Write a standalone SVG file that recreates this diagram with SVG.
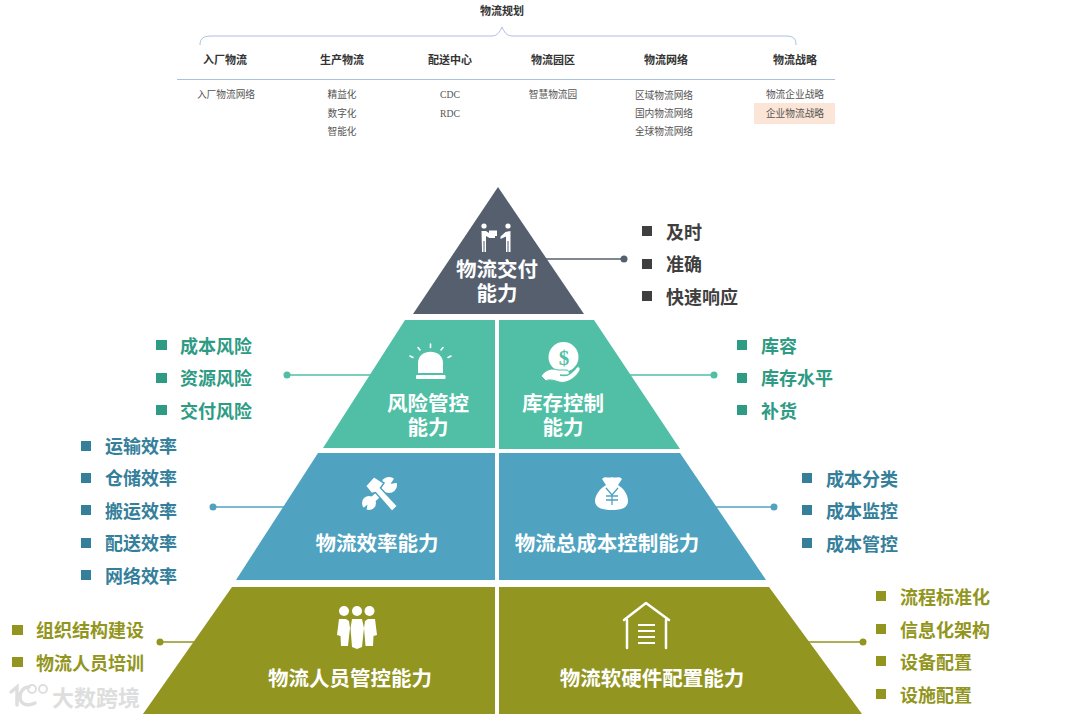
<svg xmlns="http://www.w3.org/2000/svg" width="1080" height="716" viewBox="0 0 1080 716">
<style>
text{font-family:"Noto Sans CJK SC","Noto Sans",sans-serif}
.s{font-family:"Liberation Serif","Noto Sans CJK SC",serif;fill:#444;text-anchor:middle;dominant-baseline:central}
.h{font-size:11px;font-weight:700;fill:#333}
.i{font-size:9.7px;fill:#555}
.n{font-size:20.500px;font-weight:700;fill:#fff;text-anchor:middle}
.l{font-size:18px;font-weight:700;dominant-baseline:central}
.dk{fill:#3f3f3f}.tl{fill:#2f9b84}.bl{fill:#357f9b}.ol{fill:#929520}
.w{fill:#fff}
.ws{fill:none;stroke:#fff;stroke-linecap:round;stroke-linejoin:round}
</style>
<rect width="1080" height="716" fill="#fff"/>

<g id="planning">
<text class="s h" x="502" y="11">物流规划</text>
<path d="M200 45C200 38 204 36 212 36H492C497 36 500 32 502 27C504 32 507 36 512 36H785C793 36 796 38 796 45" fill="none" stroke="#a9c0e0" stroke-width="1"/>
<path d="M177 79.500H835" stroke="#a9c0e0" stroke-width="1"/>
<rect x="754" y="103" width="81" height="21" fill="#fbe5d6"/>
<text class="s h" x="225" y="60">入厂物流</text>
<text class="s h" x="342" y="60">生产物流</text>
<text class="s h" x="450" y="60">配送中心</text>
<text class="s h" x="553" y="60">物流园区</text>
<text class="s h" x="666" y="60">物流网络</text>
<text class="s h" x="795" y="60">物流战略</text>
<text class="s i" x="226" y="94">入厂物流网络</text>
<text class="s i" x="342" y="94">精益化</text>
<text class="s i" x="342" y="113">数字化</text>
<text class="s i" x="342" y="131">智能化</text>
<text class="s i" x="450" y="94">CDC</text>
<text class="s i" x="450" y="113">RDC</text>
<text class="s i" x="553" y="94">智慧物流园</text>
<text class="s i" x="664" y="95">区域物流网络</text>
<text class="s i" x="664" y="113">国内物流网络</text>
<text class="s i" x="664" y="131">全球物流网络</text>
<text class="s i" x="795" y="94">物流企业战略</text>
<text class="s i" x="795" y="113">企业物流战略</text>
</g>

<g id="connectors" stroke-width="1.500">
<path d="M545 259H624" stroke="#555f6e"/><circle cx="624" cy="259" r="3.500" fill="#555f6e"/>
<path d="M287 375H372" stroke="#50bfa5"/><circle cx="287" cy="375" r="3.500" fill="#50bfa5"/>
<path d="M628 375H714" stroke="#50bfa5"/><circle cx="714" cy="375" r="3.500" fill="#50bfa5"/>
<path d="M213 507H285" stroke="#4fa3c1"/><circle cx="213" cy="507" r="3.500" fill="#4fa3c1"/>
<path d="M714 507H774" stroke="#4fa3c1"/><circle cx="774" cy="507" r="3.500" fill="#4fa3c1"/>
<path d="M160 642H198" stroke="#929520"/><circle cx="160" cy="642" r="3.500" fill="#929520"/>
<path d="M805 642H863" stroke="#929520"/><circle cx="863" cy="642" r="3.500" fill="#929520"/>
</g>

<g id="node-delivery">
<path d="M498 187L584 314H413Z" fill="#555f6e"/>
<circle cx="484" cy="226" r="2.600" class="w"/><circle cx="508" cy="226" r="2.600" class="w"/>
<path d="M481.500 231H486L489 233V230.500H497V236H495V238H489.500L486 236V252H484.500V241H483.500V252H482ZM510.500 231V252H508.500V241H507.500V252H506V236.500L500.500 239V236.500L505.500 232Z" class="w"/>
<text class="n" x="497" y="277">物流交付<tspan x="497" dy="24">能力</tspan></text>
</g>

<g id="node-risk">
<path d="M405 320H495V448H323Z" fill="#50bfa5"/>
<path d="M418 373V363C418 348 443 348 443 363V373Z" class="w"/>
<rect x="416" y="375" width="29.500" height="4" rx="1" class="w"/>
<path d="M410 356L413 357.500M418 347.500L420 350M430.500 344V347.500M443 347.500L441 350M451 356L448 357.500" class="ws" stroke-width="1.600"/>
<text class="n" x="428" y="411">风险管控<tspan x="428" dy="24">能力</tspan></text>
</g>

<g id="node-inventory">
<path d="M499 320H594L680 449H499Z" fill="#50bfa5"/>
<circle cx="563.500" cy="357" r="15" class="w"/>
<path d="M541 376C546 369 552 368 558 370H567C570 371 570 375 567 375H560C566 377 571 375 577 367C580 366 581 369 579 372C574 379 566 384 559 382C553 380 549 379 546 381Z" class="w" stroke="#50bfa5" stroke-width="1"/>
<text x="564" y="358" font-size="21" font-weight="700" fill="#50bfa5" text-anchor="middle" dominant-baseline="central" style="font-family:'Liberation Serif',serif">$</text>
<text class="n" x="563" y="411">库存控制<tspan x="563" dy="24">能力</tspan></text>
</g>

<g id="node-efficiency">
<path d="M318 453H495V580H236Z" fill="#4fa3c1"/>
<circle cx="389" cy="485" r="8" class="w"/>
<circle cx="369" cy="503" r="7" class="w"/>
<path d="M369 503L389 485" stroke="#fff" stroke-width="6"/>
<path d="M390.500 484L397 474L401 482ZM367.500 504.500L360 511L366 513Z" fill="#4fa3c1"/>
<path d="M365.500 486L374 476.500L384 483L380.500 488L397.500 506L392 511.500L375.500 492.500L371.500 493.500Z" class="w" stroke="#4fa3c1" stroke-width="1.500"/>
<text class="n" x="377" y="551">物流效率能力</text>
</g>

<g id="node-cost">
<path d="M499 453H680L766 580H499Z" fill="#4fa3c1"/>
<path d="M602 479C605 475 609 479 612 477C615 479 619 475 622 479L618 485C625 489 628 496 628 501C628 508 621 510 612 510C603 510 595 508 595 501C595 496 599 489 606 485Z" class="w"/>
<path d="M606 488L612 495L618 488M612 495V505M606 496H618M606 500H618" fill="none" stroke="#4fa3c1" stroke-width="1.300"/>
<text class="n" x="607" y="551">物流总成本控制能力</text>
</g>

<g id="node-people">
<path d="M232 587H495V714H143Z" fill="#929520"/>
<circle cx="344" cy="611" r="5" class="w"/><circle cx="357" cy="611" r="5" class="w"/><circle cx="369.500" cy="611" r="5" class="w"/>
<path d="M339 619H346L349 621L350 628L348 646H341L340.500 636L337 635ZM352 619H362L364 628L362 647L357 649L352 647L350.500 628ZM368 619H375L377 635L373.500 636L373 646H365.500L364 628L365 621Z" class="w"/>
<text class="n" x="350" y="686">物流人员管控能力</text>
</g>

<g id="node-hardware">
<path d="M499 587H769L862 714H499Z" fill="#929520"/>
<path d="M627 648V620M666 620V648M624 620L646 603L669 620" class="ws" stroke-width="2.500"/>
<path d="M638 625H655M638 631H655M638 637H655M638 643H655" stroke="#fff" stroke-width="2.200"/>
<text class="n" x="652" y="686">物流软硬件配置能力</text>
</g>

<g id="labels-delivery" class="dk">
<rect x="642" y="226" width="10" height="10"/><rect x="642" y="259" width="10" height="10"/><rect x="642" y="291" width="10" height="10"/>
<text class="l dk" x="666" y="231">及时</text><text class="l dk" x="666" y="263">准确</text><text class="l dk" x="666" y="296">快速响应</text>
</g>
<g id="labels-risk" class="tl">
<rect x="156" y="340" width="11" height="10"/><rect x="156" y="373" width="11" height="10"/><rect x="156" y="405" width="11" height="10"/>
<text class="l tl" x="180" y="345">成本风险</text><text class="l tl" x="180" y="377">资源风险</text><text class="l tl" x="180" y="410">交付风险</text>
</g>
<g id="labels-inventory" class="tl">
<rect x="737" y="340" width="10" height="10"/><rect x="737" y="373" width="10" height="10"/><rect x="737" y="405" width="10" height="10"/>
<text class="l tl" x="761" y="345">库容</text><text class="l tl" x="761" y="377">库存水平</text><text class="l tl" x="761" y="410">补货</text>
</g>
<g id="labels-efficiency" class="bl">
<rect x="81" y="441" width="10" height="10"/><rect x="81" y="473" width="10" height="10"/><rect x="81" y="505" width="10" height="10"/><rect x="81" y="538" width="10" height="10"/><rect x="81" y="570" width="10" height="10"/>
<text class="l bl" x="105" y="445">运输效率</text><text class="l bl" x="105" y="477">仓储效率</text><text class="l bl" x="105" y="510">搬运效率</text><text class="l bl" x="105" y="542">配送效率</text><text class="l bl" x="105" y="575">网络效率</text>
</g>
<g id="labels-cost" class="bl">
<rect x="802" y="473" width="10" height="10"/><rect x="802" y="505" width="10" height="10"/><rect x="802" y="538" width="10" height="10"/>
<text class="l bl" x="826" y="478">成本分类</text><text class="l bl" x="826" y="510">成本监控</text><text class="l bl" x="826" y="543">成本管控</text>
</g>
<g id="labels-people" class="ol">
<rect x="12" y="625" width="11" height="10"/><rect x="12" y="657" width="11" height="10"/>
<text class="l ol" x="36" y="629">组织结构建设</text><text class="l ol" x="36" y="662">物流人员培训</text>
</g>
<g id="labels-hardware" class="ol">
<rect x="876" y="591" width="10" height="10"/><rect x="876" y="624" width="10" height="10"/><rect x="876" y="656" width="10" height="10"/><rect x="876" y="689" width="10" height="10"/>
<text class="l ol" x="900" y="596">流程标准化</text><text class="l ol" x="900" y="629">信息化架构</text><text class="l ol" x="900" y="661">设备配置</text><text class="l ol" x="900" y="694">设施配置</text>
</g>

<g id="watermark">
<path d="M11 692L17 687V705M29 687C23 687 20 692 20 697C20 704 27 707 35 703" fill="none" stroke="#dedede" stroke-width="3.500" stroke-linecap="round"/>
<circle cx="32" cy="689" r="4" fill="none" stroke="#dedede" stroke-width="2"/><circle cx="43" cy="689" r="4" fill="none" stroke="#dedede" stroke-width="2"/>
<text x="52" y="696" font-size="22" font-weight="700" fill="#dedede" dominant-baseline="central">大数跨境</text>
</g>
</svg>
